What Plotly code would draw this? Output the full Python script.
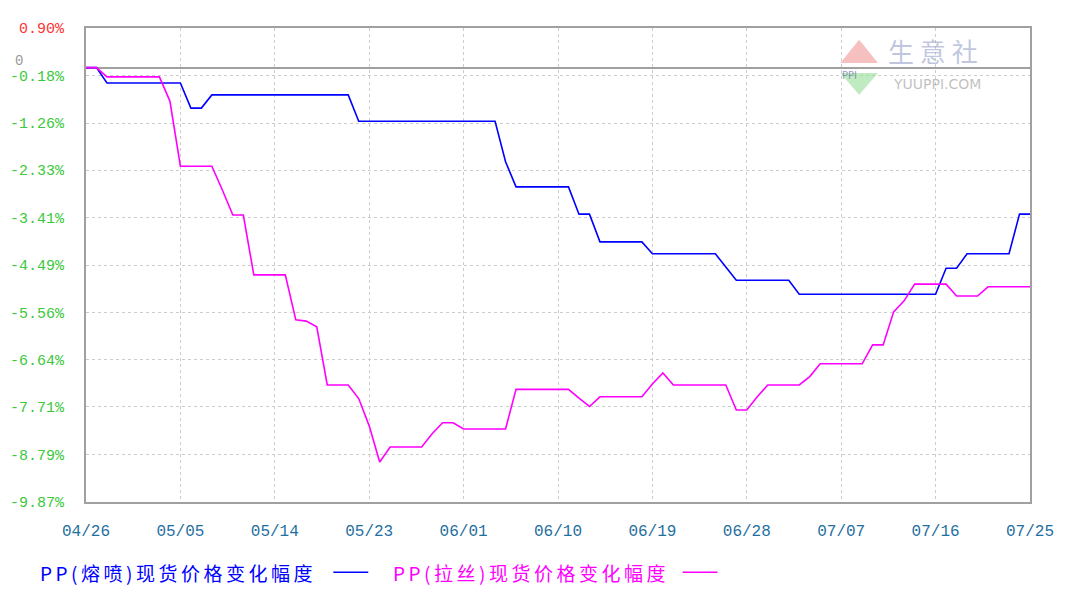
import plotly.graph_objects as go
import pandas as pd

dates = pd.date_range("2020-04-26", "2020-07-25", freq="D")

melt_blown = [0.00, 0.00, -0.35, -0.35, -0.35, -0.35, -0.35, -0.35, -0.35, -0.35,
              -0.92, -0.92,
              -0.62, -0.62, -0.62, -0.62, -0.62, -0.62, -0.62, -0.62, -0.62, -0.62, -0.62, -0.62, -0.62, -0.62,
              -1.22, -1.22, -1.22, -1.22, -1.22, -1.22, -1.22, -1.22, -1.22, -1.22, -1.22, -1.22, -1.22, -1.22,
              -2.14,
              -2.71, -2.71, -2.71, -2.71, -2.71, -2.71,
              -3.33, -3.33,
              -3.96, -3.96, -3.96, -3.96, -3.96,
              -4.23, -4.23, -4.23, -4.23, -4.23, -4.23, -4.23,
              -4.53,
              -4.83, -4.83, -4.83, -4.83, -4.83, -4.83,
              -5.15, -5.15, -5.15, -5.15, -5.15, -5.15, -5.15, -5.15, -5.15, -5.15, -5.15, -5.15, -5.15, -5.15,
              -4.56, -4.56,
              -4.23, -4.23, -4.23, -4.23, -4.23,
              -3.33, -3.33]

drawn_yarn = [0.00, 0.00,
              -0.21, -0.21, -0.21, -0.21, -0.21, -0.21,
              -0.76,
              -2.24, -2.24, -2.24, -2.24,
              -2.78,
              -3.35, -3.35,
              -4.71, -4.71, -4.71, -4.71,
              -5.73, -5.76, -5.89,
              -7.21, -7.21, -7.21,
              -7.52, -8.14, -8.96,
              -8.62, -8.62, -8.62, -8.62,
              -8.32,
              -8.07, -8.07,
              -8.21, -8.21, -8.21, -8.21, -8.21,
              -7.31, -7.31, -7.31, -7.31, -7.31, -7.31,
              -7.51, -7.70,
              -7.48, -7.48, -7.48, -7.48, -7.48,
              -7.19, -6.94,
              -7.21, -7.21, -7.21, -7.21, -7.21, -7.21,
              -7.78, -7.78,
              -7.48,
              -7.21, -7.21, -7.21, -7.21,
              -7.02,
              -6.73, -6.73, -6.73, -6.73, -6.73,
              -6.30, -6.30,
              -5.55, -5.30,
              -4.92, -4.92, -4.92, -4.92,
              -5.19, -5.19, -5.19,
              -4.98, -4.98, -4.98, -4.98, -4.98]

y_ticks = [0.90, -0.18, -1.26, -2.33, -3.41, -4.49, -5.56, -6.64, -7.71, -8.79, -9.87]
x_tick_dates = ["2020-04-26", "2020-05-05", "2020-05-14", "2020-05-23", "2020-06-01", "2020-06-10",
                "2020-06-19", "2020-06-28", "2020-07-07", "2020-07-16", "2020-07-25"]
x_tick_labels = ["04/26", "05/05", "05/14", "05/23", "06/01", "06/10",
                 "06/19", "06/28", "07/07", "07/16", "07/25"]

name_blue = "PP(熔喷)现货价格变化幅度"
name_pink = "PP(拉丝)现货价格变化幅度"

y_text = []
for v in y_ticks:
    t = "%.2f%%" % v
    if v > 0:
        t = "<span style='color:#ff3333'>" + t + "</span>"
    y_text.append(t)

fig = go.Figure()
fig.add_trace(go.Scatter(x=dates, y=melt_blown, mode="lines", name=name_blue,
                         line=dict(color="#0000ff", width=1.6)))
fig.add_trace(go.Scatter(x=dates, y=drawn_yarn, mode="lines", name=name_pink,
                         line=dict(color="#ff00ff", width=1.6)))

mono = "Liberation Mono, DejaVu Sans Mono, monospace"
cjk = "Noto Sans CJK SC"

fig.update_layout(
    width=1051, height=577,
    margin=dict(l=78, r=29, t=20, b=83, autoexpand=False),
    paper_bgcolor="white", plot_bgcolor="white",
    showlegend=False,
    xaxis=dict(
        type="date", automargin=False,
        range=["2020-04-26", "2020-07-25"],
        tickvals=x_tick_dates, ticktext=x_tick_labels,
        tickfont=dict(family=mono, size=16, color="#1f6f9f"),
        showgrid=True, gridcolor="#cccccc", griddash="3px,3px", gridwidth=1,
        showline=True, linecolor="#a0a0a0", linewidth=2, mirror=True,
        ticks="", ticklabelstandoff=13,
    ),
    yaxis=dict(
        automargin=False,
        range=[-9.87, 0.90],
        tickvals=y_ticks, ticktext=y_text,
        tickfont=dict(family=mono, size=15, color="#3cc83c"),
        showgrid=True, gridcolor="#cccccc", griddash="3px,3px", gridwidth=1,
        showline=True, linecolor="#a0a0a0", linewidth=2, mirror=True,
        zeroline=True, zerolinecolor="#a0a0a0", zerolinewidth=2,
        ticks="", ticklabelstandoff=17,
    ),
)

# "0" marker label at the zero line
fig.add_annotation(xref="paper", yref="y", x=-0.077, y=0.15, text="0", showarrow=False,
                   xanchor="left", yanchor="middle",
                   font=dict(family=mono, size=14, color="#999999"))

# legend drawn below the chart (text then line sample)
def spaced(t):
    return "<span style='letter-spacing:3.5px'>" + t + "</span>"

fig.add_annotation(xref="paper", yref="paper", x=-0.051, y=-0.148, text=spaced(name_blue),
                   showarrow=False, xanchor="left", yanchor="middle",
                   font=dict(family=cjk, size=19, color="#0000ff"))
fig.add_shape(type="line", xref="paper", yref="paper", x0=0.262, x1=0.299, y0=-0.148, y1=-0.148,
              line=dict(color="#0000ff", width=1.5))
fig.add_annotation(xref="paper", yref="paper", x=0.323, y=-0.148, text=spaced(name_pink),
                   showarrow=False, xanchor="left", yanchor="middle",
                   font=dict(family=cjk, size=19, color="#ff00ff"))
fig.add_shape(type="line", xref="paper", yref="paper", x0=0.632, x1=0.669, y0=-0.148, y1=-0.148,
              line=dict(color="#ff00ff", width=1.5))

# watermark logo
fig.add_shape(type="path", xref="paper", yref="paper",
              path="M 0.799 0.926 L 0.839 0.926 L 0.819 0.975 Z",
              fillcolor="rgba(240,150,150,0.6)", line=dict(width=0))
fig.add_shape(type="path", xref="paper", yref="paper",
              path="M 0.799 0.905 L 0.839 0.905 L 0.819 0.859 Z",
              fillcolor="rgba(150,220,150,0.6)", line=dict(width=0))
fig.add_annotation(xref="paper", yref="paper", x=0.819, y=0.915, text="PPI", showarrow=False,
                   font=dict(family="DejaVu Sans", size=10, color="rgba(110,120,170,0.75)"))
fig.add_annotation(xref="paper", yref="paper", x=0.847, y=0.952, text="生 意 社", showarrow=False,
                   xanchor="left", yanchor="middle",
                   font=dict(family=cjk, size=26, color="rgba(150,160,200,0.6)"))
fig.add_annotation(xref="paper", yref="paper", x=0.853, y=0.882, text="YUUPPI.COM", showarrow=False,
                   xanchor="left", yanchor="middle",
                   font=dict(family="DejaVu Sans", size=14, color="rgba(150,150,150,0.6)"))

fig.write_html("out.html")
